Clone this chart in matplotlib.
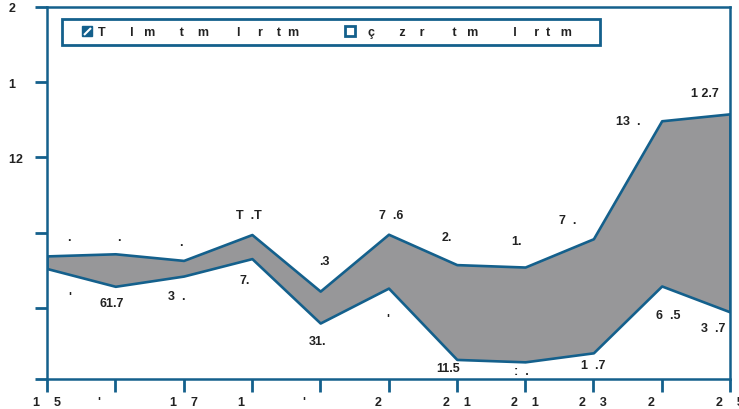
import matplotlib
matplotlib.use("Agg")
import matplotlib.pyplot as plt
from matplotlib.lines import Line2D
from matplotlib.path import Path
from matplotlib.legend_handler import HandlerTuple

# ---- data ----
years = [1995, 1996, 1997, 1998, 1999, 2000, 2001, 2002, 2003, 2004, 2005]
upper = [117.3, 118.0, 115.8, 124.4, 105.6, 124.5, 114.4, 113.6, 123.0, 162.2, 164.5]
lower = [113.1, 107.2, 110.6, 116.4, 95.0, 106.6, 82.9, 82.1, 85.1, 107.3, 98.7]
upper_labels = [".", ".", ".", "T  .T", ".3", "7  .6", "2.", "1.", "7  .", "13  .", "1 2.7"]
lower_labels = ["'", "61.7", "3  .", "7.", "31.", "'", "11.5", ":  .", "1  .7", "6  .5", "3  .7"]
x_tick_labels = ["1    5", "'         ", "1    7", "1      ", "'         ", "2      ",
                 "2    1", "2    1", "2    3", "2      ", "2    5"]
y_ticks = [76.4, 100, 125, 150, 175, 200]
y_tick_labels = ["", "", "", "12  ", "1    ", "2    "]
legend_labels = ["T       l   m       t    m        l     r    t  m",
                 "  ç       z    r        t   m          l     r  t   m      "]

# ---- style ----
BLUE = "#14608c"
GRAY = "#979799"
TXT = "#222222"
FONT = "Liberation Sans"
upper_off = [(22, 19), (4, 17), (-3, 18), (-3, 20), (4, 30), (3, 19), (-10, 28), (-9, 26), (-26, 19), (-33, 0), (-25, 21)]
lower_off = [(23, -28), (-4, -17), (-7, -20), (-7, -21), (-3, -18), (-1, -31), (-9, -9), (-4, -9), (0, -12), (7, -29), (-17, -16)]

fig = plt.figure(figsize=(7.39, 4.10), dpi=100)
ax = fig.add_axes([47 / 739, 1 - 380 / 410, 683 / 739, 372 / 410])

ax.fill_between(years, lower, upper, facecolor=GRAY, edgecolor=BLUE, linewidth=1.9, zorder=2)

for x, y, s, (dx, dy) in zip(years, upper, upper_labels, upper_off):
    ax.annotate(s, (x, y), xytext=(dx, dy), textcoords="offset pixels", ha="center", va="center",
                fontsize=9, fontweight="bold", family=FONT, color=TXT, annotation_clip=False)
for x, y, s, (dx, dy) in zip(years, lower, lower_labels, lower_off):
    ax.annotate(s, (x, y), xytext=(dx, dy), textcoords="offset pixels", ha="center", va="center",
                fontsize=9, fontweight="bold", family=FONT, color=TXT, annotation_clip=False)

ax.set_xlim(years[0], years[-1])
ax.set_ylim(y_ticks[0], y_ticks[-1])
ax.set_xticks(years)
ax.set_xticklabels(x_tick_labels)
ax.set_yticks(y_ticks)
ax.set_yticklabels(y_tick_labels)
ax.tick_params(axis="both", direction="out", length=9, width=2, color=BLUE, labelsize=9, labelcolor=TXT, pad=3)
for lab in ax.get_xticklabels() + ax.get_yticklabels():
    lab.set_fontweight("bold")
    lab.set_family(FONT)
for sp in ax.spines.values():
    sp.set_color(BLUE)
    sp.set_linewidth(1.8)

diag = Path([(-1, -1), (1, 1)], [Path.MOVETO, Path.LINETO])
h1 = (Line2D([], [], marker="s", ms=7, color=BLUE, ls=""),
      Line2D([], [], marker=diag, ms=5, mec="white", mew=1.5, ls=""))
h2 = Line2D([], [], marker="s", ms=6.5, mfc="white", mec=BLUE, mew=2, ls="")
leg = ax.legend([h1, h2], legend_labels, handler_map={tuple: HandlerTuple(ndivide=1)},
                loc="upper left", bbox_to_anchor=(15 / 683, 1 - 12 / 372), borderaxespad=0,
                ncol=2, frameon=True, fancybox=False, framealpha=1, edgecolor=BLUE,
                handlelength=2.9, handletextpad=-0.55, columnspacing=2.6, borderpad=0.55,
                prop={"family": FONT, "size": 9, "weight": "bold"})
leg.get_frame().set_linewidth(2)
for t in leg.get_texts():
    t.set_color(TXT)

fig.savefig("out.png", dpi=100)
